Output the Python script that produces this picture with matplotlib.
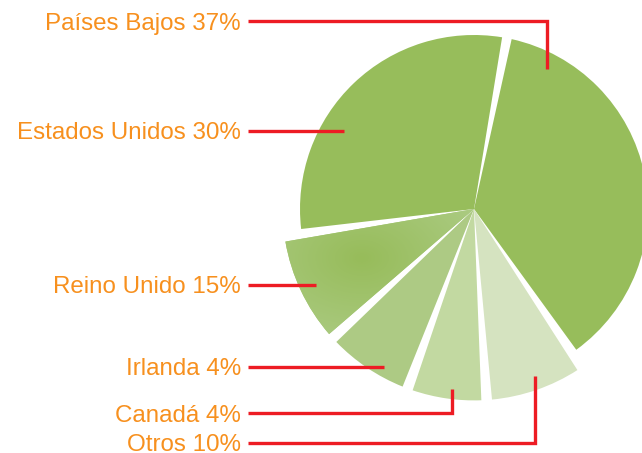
import numpy as np
import matplotlib
matplotlib.use("Agg")
import matplotlib.pyplot as plt
from matplotlib.patches import Wedge
from matplotlib.colors import LinearSegmentedColormap

# ---- data ----
countries = ["Países Bajos", "Estados Unidos", "Reino Unido", "Irlanda", "Canadá", "Otros"]
percent_labels = ["37%", "30%", "15%", "4%", "4%", "10%"]
# slice sizes as drawn in the picture (degrees of the circle)
slice_deg = [134.7, 109.1, 34.2, 27.3, 24.1, 30.5]
slice_colors = ["#97bd5b", "#97bd5b", "#a8c87c", "#adca84", "#c2d9a1", "#d5e3c0"]
slice_radius_scale = [1.0, 1.0, 1.10, 1.10, 1.10, 1.10]

W, H = 642, 453
fig = plt.figure(figsize=(W / 100, H / 100), dpi=100)
ax = fig.add_axes([0, 0, 1, 1])
ax.set_xlim(0, W)
ax.set_ylim(0, H)
ax.set_aspect("equal")
ax.axis("off")

def Y(y_img):
    return H - y_img

cx, cy = 474, Y(209)
R = 174
gap = 3.2
start = -55.6

wedges = []
theta = start
for i, d in enumerate(slice_deg):
    t1 = theta + gap / 2
    t2 = theta + d - gap / 2
    w = Wedge((cx, cy), R * slice_radius_scale[i], t1, t2,
              facecolor=slice_colors[i], edgecolor="none", zorder=2)
    ax.add_patch(w)
    wedges.append(w)
    theta += d

# radial glow on Reino Unido slice
gx, gy = 362, Y(258)
xs = np.linspace(0, W, W)
ys = np.linspace(0, H, H)
XX, YY = np.meshgrid(xs, ys)
dist = np.sqrt(((XX - gx) / 1.5) ** 2 + (YY - gy) ** 2)
val = np.clip(dist / 85.0, 0, 1)
cmap = LinearSegmentedColormap.from_list("glow", ["#97bc5a", "#aaca80"])
im = ax.imshow(val, cmap=cmap, extent=[0, W, 0, H], origin="lower",
               vmin=0, vmax=1, zorder=3, interpolation="bilinear")
im.set_clip_path(wedges[2])

# ---- labels and leader lines ----
red = "#ed1c24"
orange = "#f7901e"
label_y = [21.3, 131, 285, 366.7, 413.3, 442.7]
line_end = [(547.3, 69.3), (344.3, None), (315.7, None), (384, None), (451.7, 389), (534.7, 376)]

for i, name in enumerate(countries):
    ly = label_y[i]
    xe, ye = line_end[i]
    xs_l = [248, xe]
    ys_l = [Y(ly), Y(ly)]
    if ye is not None:
        xs_l.append(xe)
        ys_l.append(Y(ye))
    ax.plot(xs_l, ys_l, color=red, lw=2.4, solid_capstyle="butt",
            solid_joinstyle="miter", zorder=5)
    ax.text(241, Y(ly) - 8.4, f"{name} {percent_labels[i]}", ha="right",
            va="baseline", fontsize=17.4, color=orange,
            family=["Liberation Sans", "DejaVu Sans"], zorder=6)

fig.savefig("out.png", dpi=100)
